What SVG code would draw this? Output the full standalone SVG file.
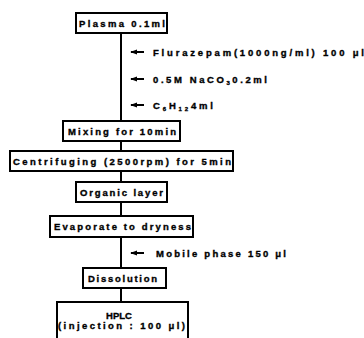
<svg xmlns="http://www.w3.org/2000/svg" width="364" height="338" viewBox="0 0 364 338">
<style>
.box{fill:#fff;stroke:#000;stroke-width:2}
.t{font-family:"Liberation Sans",Arial,sans-serif;font-weight:bold;font-size:9.5px;fill:#000;stroke:#000;stroke-width:0.35}
.c{stroke:#000;stroke-width:2;fill:none}
.a{stroke:#000;stroke-width:2;fill:none;marker-start:url(#ah)}
</style>
<defs>
<marker id="ah" viewBox="0 0 8 6" refX="1" refY="3" markerWidth="3.5" markerHeight="2.6" orient="auto" markerUnits="strokeWidth">
<path d="M0,3 L8,0 L8,6 z" fill="#000"/>
</marker>
</defs>
<rect width="364" height="338" fill="#fff"/>
<g id="connectors">
<line class="c" x1="121" y1="33" x2="121" y2="121"/>
<line class="c" x1="121" y1="141" x2="121" y2="151"/>
<line class="c" x1="121" y1="171" x2="121" y2="182"/>
<line class="c" x1="121" y1="202" x2="121" y2="216"/>
<line class="c" x1="121" y1="237" x2="121" y2="268"/>
<line class="c" x1="121" y1="288" x2="121" y2="302"/>
<line class="a" x1="131" y1="52" x2="144" y2="52"/>
<line class="a" x1="131" y1="79" x2="144" y2="79"/>
<line class="a" x1="131" y1="105" x2="144" y2="105"/>
<line class="a" x1="131" y1="253" x2="144" y2="253"/>
</g>
<g id="plasma">
<rect class="box" x="76" y="13" width="91" height="20"/>
<text class="t" x="79" y="26.5" textLength="86" lengthAdjust="spacing">Plasma 0.1ml</text>
</g>
<g id="add-flurazepam">
<text class="t" x="153" y="55.5" textLength="211" lengthAdjust="spacing">Flurazepam(1000ng/ml) 100 μl</text>
</g>
<g id="add-naco3">
<text class="t" x="153" y="82.5" textLength="114" lengthAdjust="spacing">0.5M NaCO<tspan font-size="6" dy="2">3</tspan><tspan dy="-2">0.2ml</tspan></text>
</g>
<g id="add-c6h12">
<text class="t" x="153" y="108.5" textLength="60" lengthAdjust="spacing">C<tspan font-size="6" dy="2">6</tspan><tspan dy="-2">H</tspan><tspan font-size="6" dy="2">12</tspan><tspan dy="-2">4ml</tspan></text>
</g>
<g id="mixing">
<rect class="box" x="63" y="121" width="117" height="20"/>
<text class="t" x="68" y="134.5" textLength="108" lengthAdjust="spacing">Mixing for 10min</text>
</g>
<g id="centrifuging">
<rect class="box" x="10" y="151" width="223" height="20"/>
<text class="t" x="13" y="164.5" textLength="218" lengthAdjust="spacing">Centrifuging (2500rpm) for 5min</text>
</g>
<g id="organic">
<rect class="box" x="76" y="182" width="91" height="20"/>
<text class="t" x="80" y="195.5" textLength="83" lengthAdjust="spacing">Organic layer</text>
</g>
<g id="evaporate">
<rect class="box" x="50" y="216" width="143" height="21"/>
<text class="t" x="54" y="230" textLength="137" lengthAdjust="spacing">Evaporate to dryness</text>
</g>
<g id="add-mobile">
<text class="t" x="156" y="256.5" textLength="130" lengthAdjust="spacing">Mobile phase 150 μl</text>
</g>
<g id="dissolution">
<rect class="box" x="83" y="268" width="83" height="20"/>
<text class="t" x="88" y="281.5" textLength="69" lengthAdjust="spacing">Dissolution</text>
</g>
<g id="hplc">
<path class="c" d="M57,340 V302 H188 V340"/>
<text class="t" x="119" y="318.5" text-anchor="middle">HPLC</text>
<text class="t" x="58" y="328.5" textLength="127" lengthAdjust="spacing">(injection : 100 μl)</text>
</g>
</svg>
